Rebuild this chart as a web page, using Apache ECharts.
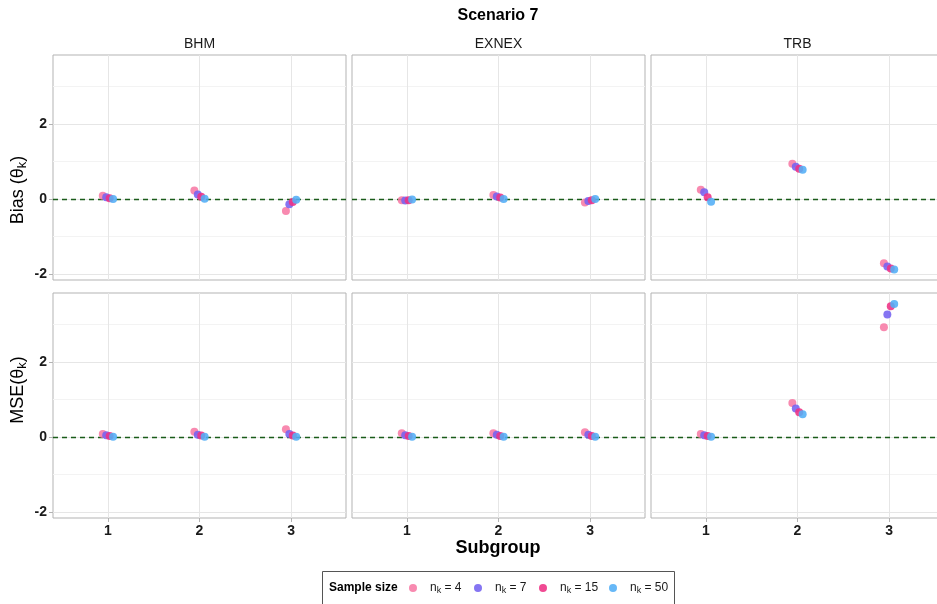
<!DOCTYPE html>
<html>
<head>
<meta charset="utf-8">
<script src="https://cdn.jsdelivr.net/npm/echarts@6/dist/echarts.min.js"></script>
<style>
  html, body { margin: 0; padding: 0; background: #ffffff; overflow: hidden; }
  /* the right-hand facet column runs past the window edge */
  #chart { width: 960px; height: 604px; }
</style>
</head>
<body>
<div id="chart"></div>
<script>
// Scenario 7: bias and MSE of the subgroup estimates, by method and sample size
const subgroups = [1, 2, 3];
const methods = ['BHM', 'EXNEX', 'TRB'];
const sampleSizes = [4, 7, 15, 50];

// rows: n_k = 4, 7, 15, 50 ; columns: subgroup 1, 2, 3
const biasBHM   = [[0.09, 0.23, -0.32], [0.05, 0.12, -0.14], [0.02, 0.06, -0.08], [0.00, 0.01, -0.02]];
const biasEXNEX = [[-0.03, 0.11, -0.09], [-0.04, 0.07, -0.05], [-0.03, 0.04, -0.03], [-0.01, 0.00, 0.00]];
const biasTRB   = [[0.25, 0.94, -1.71], [0.18, 0.86, -1.80], [0.05, 0.81, -1.85], [-0.07, 0.78, -1.88]];

const mseBHM    = [[0.08, 0.14, 0.21], [0.05, 0.06, 0.08], [0.03, 0.04, 0.04], [0.01, 0.01, 0.01]];
const mseEXNEX  = [[0.10, 0.10, 0.13], [0.05, 0.06, 0.06], [0.03, 0.03, 0.03], [0.01, 0.01, 0.01]];
const mseTRB    = [[0.08, 0.91, 2.93], [0.05, 0.76, 3.27], [0.03, 0.66, 3.49], [0.01, 0.61, 3.55]];

const yMajor = [-2, 0, 2];
const yMinor = [-1, 1, 3];

const panelValues = [
  [biasBHM, biasEXNEX, biasTRB],
  [mseBHM, mseEXNEX, mseTRB]
];

const colors = ['#F77AA5', '#7462F0', '#EE3184', '#52AEF6'];
const FONT = '"Liberation Sans", Arial, Helvetica, sans-serif';

const colLeft = [53, 352, 651];
const rowTop = [55, 293];
const panelW = 293, panelH = 225;
const dodge = [-0.05625, -0.01875, 0.01875, 0.05625];

const grids = [], xAxes = [], yAxes = [], series = [];

for (let r = 0; r < 2; r++) {
  for (let c = 0; c < 3; c++) {
    const idx = r * 3 + c;
    grids.push({
      left: colLeft[c], top: rowTop[r], width: panelW, height: panelH,
      show: true, borderColor: '#b3b3b3', borderWidth: 1, backgroundColor: 'transparent'
    });
    xAxes.push({
      type: 'value', gridIndex: idx, min: 0.4, max: 3.6,
      axisLine: { show: false, onZero: false },
      splitLine: { show: false },
      axisTick: { show: r === 1, customValues: subgroups, length: 4, lineStyle: { color: '#b3b3b3' } },
      axisLabel: { show: r === 1, customValues: subgroups, fontWeight: 'bold', fontSize: 14,
                   color: '#1a1a1a', margin: 6, fontFamily: FONT }
    });
    yAxes.push({
      type: 'value', gridIndex: idx, min: -2.16, max: 3.84,
      axisLine: { show: false, onZero: false },
      splitLine: { show: false },
      axisTick: { show: c === 0, customValues: yMajor, length: 4, lineStyle: { color: '#b3b3b3' } },
      axisLabel: { show: c === 0, customValues: yMajor, fontWeight: 'bold', fontSize: 14,
                   color: '#1a1a1a', margin: 6, fontFamily: FONT }
    });

    // background grid lines
    const gl = [];
    yMinor.forEach(v => gl.push({ yAxis: v, lineStyle: { color: '#f3f3f3', width: 1, type: 'solid' } }));
    yMajor.forEach(v => gl.push({ yAxis: v, lineStyle: { color: '#e6e6e6', width: 1, type: 'solid' } }));
    subgroups.forEach(v => gl.push({ xAxis: v, lineStyle: { color: '#e6e6e6', width: 1, type: 'solid' } }));
    series.push({
      type: 'scatter', xAxisIndex: idx, yAxisIndex: idx, data: [], silent: true, z: 1,
      markLine: { z: 1, silent: true, symbol: 'none', label: { show: false }, animation: false, data: gl }
    });

    // reference line at zero
    series.push({
      type: 'scatter', xAxisIndex: idx, yAxisIndex: idx, data: [], silent: true, z: 2,
      markLine: {
        z: 2, silent: true, symbol: 'none', label: { show: false }, animation: false,
        data: [{ yAxis: 0, lineStyle: { color: '#1a5c1a', width: 1.3, type: [5, 4] } }]
      }
    });

    // estimates, dodged by sample size
    const vals = panelValues[r][c];
    sampleSizes.forEach((n, k) => {
      series.push({
        name: 'n_k = ' + n,
        type: 'scatter', xAxisIndex: idx, yAxisIndex: idx, z: 3,
        symbol: 'circle', symbolSize: 8,
        itemStyle: { color: colors[k], opacity: 0.88 },
        data: subgroups.map((s, i) => [s + dodge[k], vals[k][i]])
      });
    });
  }
}

const graphics = [];
// title
graphics.push({ type: 'text', x: 498, y: 16, style: {
  text: 'Scenario 7', align: 'center', verticalAlign: 'middle',
  font: 'bold 16px ' + FONT, fill: '#000' } });
// strip labels
methods.forEach((m, c) => {
  graphics.push({ type: 'text', x: colLeft[c] + panelW / 2, y: 44, style: {
    text: m, align: 'center', verticalAlign: 'middle',
    font: '14px ' + FONT, fill: '#1a1a1a' } });
});
// axis titles
const richTitle = {
  a: { fontSize: 18, fontFamily: FONT, fill: '#000', color: '#000' },
  s: { fontSize: 13, fontFamily: FONT, fill: '#000', color: '#000', verticalAlign: 'bottom', padding: [8, 0, 0, 0] }
};
graphics.push({ type: 'text', x: 18, y: 190, rotation: Math.PI / 2, style: {
  text: '{a|Bias (θ}{s|k}{a|)}', rich: richTitle, align: 'center', verticalAlign: 'middle' } });
graphics.push({ type: 'text', x: 18, y: 390, rotation: Math.PI / 2, style: {
  text: '{a|MSE(θ}{s|k}{a|)}', rich: richTitle, align: 'center', verticalAlign: 'middle' } });
graphics.push({ type: 'text', x: 498, y: 548, style: {
  text: 'Subgroup', align: 'center', verticalAlign: 'middle',
  font: 'bold 18px ' + FONT, fill: '#000' } });

// legend
graphics.push({ type: 'rect', shape: { x: 322.5, y: 571.5, width: 352, height: 40 },
  style: { fill: '#fff', stroke: '#555', lineWidth: 1 } });
graphics.push({ type: 'text', x: 329, y: 588, style: {
  text: 'Sample size', align: 'left', verticalAlign: 'middle',
  font: 'bold 12px ' + FONT, fill: '#000' } });
const legendIcon = [413, 478, 543, 613];
const richLegend = {
  a: { fontSize: 12, fontFamily: FONT, fill: '#1a1a1a', color: '#1a1a1a' },
  s: { fontSize: 9, fontFamily: FONT, fill: '#1a1a1a', color: '#1a1a1a', verticalAlign: 'bottom', padding: [6, 0, 0, 0] }
};
sampleSizes.forEach((n, k) => {
  graphics.push({ type: 'circle', shape: { cx: legendIcon[k], cy: 588, r: 4 },
    style: { fill: colors[k], opacity: 0.88 } });
  graphics.push({ type: 'text', x: legendIcon[k] + 17, y: 588, style: {
    text: '{a|n}{s|k}{a| = ' + n + '}', rich: richLegend, align: 'left', verticalAlign: 'middle' } });
});

const chart = echarts.init(document.getElementById('chart'), null, { renderer: 'canvas' });
chart.setOption({
  animation: false,
  backgroundColor: '#ffffff',
  grid: grids,
  xAxis: xAxes,
  yAxis: yAxes,
  series: series,
  graphic: graphics
});
</script>
</body>
</html>
